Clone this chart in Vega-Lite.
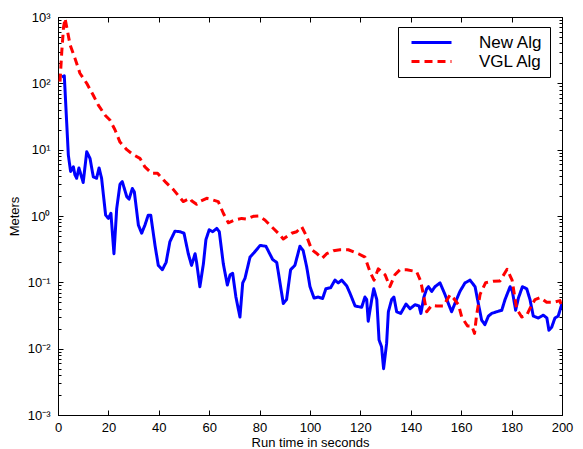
{
  "$schema": "https://vega.github.io/schema/vega-lite/v6.json",
  "width": 504,
  "height": 398,
  "autosize": {"type": "none"},
  "padding": {"left": 58, "top": 17, "right": 21, "bottom": 34},
  "background": "white",
  "config": {
    "view": {"stroke": "black", "strokeWidth": 1},
    "font": "Liberation Sans",
    "axis": {
      "grid": false,
      "domainColor": "black",
      "domainWidth": 1,
      "tickColor": "black",
      "tickWidth": 1,
      "labelColor": "black",
      "titleColor": "black",
      "labelFont": "Liberation Sans",
      "titleFont": "Liberation Sans",
      "labelFontSize": 13,
      "titleFontSize": 13,
      "titleFontWeight": "normal",
      "labelFlush": false,
      "labelOverlap": false,
      "labelBound": false
    }
  },
  "datasets": {
    "pts": [
      {"s": "New Alg", "t": 1.5, "v": 125}, {"s": "New Alg", "t": 2.5, "v": 130}, {"s": "New Alg", "t": 4.1, "v": 8.3}, {"s": "New Alg", "t": 5.0, "v": 4.7}, {"s": "New Alg", "t": 6.1, "v": 5.5}, {"s": "New Alg", "t": 6.7, "v": 4.2}, {"s": "New Alg", "t": 7.4, "v": 3.7}, {"s": "New Alg", "t": 8.3, "v": 5.3}, {"s": "New Alg", "t": 10.0, "v": 3.2}, {"s": "New Alg", "t": 11.4, "v": 9.3}, {"s": "New Alg", "t": 12.7, "v": 7.4}, {"s": "New Alg", "t": 14.0, "v": 3.9}, {"s": "New Alg", "t": 15.3, "v": 3.7}, {"s": "New Alg", "t": 16.3, "v": 5.3}, {"s": "New Alg", "t": 17.3, "v": 3.7}, {"s": "New Alg", "t": 18.9, "v": 1.03}, {"s": "New Alg", "t": 20.0, "v": 0.92}, {"s": "New Alg", "t": 21.0, "v": 1.1}, {"s": "New Alg", "t": 22.2, "v": 0.27}, {"s": "New Alg", "t": 23.3, "v": 1.3}, {"s": "New Alg", "t": 24.6, "v": 3.0}, {"s": "New Alg", "t": 25.5, "v": 3.3}, {"s": "New Alg", "t": 27.3, "v": 1.95}, {"s": "New Alg", "t": 28.2, "v": 1.8}, {"s": "New Alg", "t": 29.5, "v": 2.6}, {"s": "New Alg", "t": 30.3, "v": 2.3}, {"s": "New Alg", "t": 31.9, "v": 0.73}, {"s": "New Alg", "t": 33.2, "v": 0.55}, {"s": "New Alg", "t": 34.5, "v": 0.73}, {"s": "New Alg", "t": 35.8, "v": 1.03}, {"s": "New Alg", "t": 36.8, "v": 1.03}, {"s": "New Alg", "t": 38.5, "v": 0.36}, {"s": "New Alg", "t": 39.8, "v": 0.18}, {"s": "New Alg", "t": 41.4, "v": 0.155}, {"s": "New Alg", "t": 42.9, "v": 0.2}, {"s": "New Alg", "t": 44.4, "v": 0.41}, {"s": "New Alg", "t": 46.4, "v": 0.59}, {"s": "New Alg", "t": 48.4, "v": 0.58}, {"s": "New Alg", "t": 50.0, "v": 0.55}, {"s": "New Alg", "t": 51.7, "v": 0.27}, {"s": "New Alg", "t": 53.0, "v": 0.18}, {"s": "New Alg", "t": 54.4, "v": 0.27}, {"s": "New Alg", "t": 55.0, "v": 0.2}, {"s": "New Alg", "t": 56.3, "v": 0.086}, {"s": "New Alg", "t": 57.7, "v": 0.19}, {"s": "New Alg", "t": 58.7, "v": 0.44}, {"s": "New Alg", "t": 60.0, "v": 0.62}, {"s": "New Alg", "t": 61.4, "v": 0.58}, {"s": "New Alg", "t": 63.0, "v": 0.65}, {"s": "New Alg", "t": 64.0, "v": 0.58}, {"s": "New Alg", "t": 65.6, "v": 0.19}, {"s": "New Alg", "t": 67.2, "v": 0.091}, {"s": "New Alg", "t": 68.3, "v": 0.13}, {"s": "New Alg", "t": 69.3, "v": 0.137}, {"s": "New Alg", "t": 70.6, "v": 0.06}, {"s": "New Alg", "t": 72.2, "v": 0.03}, {"s": "New Alg", "t": 73.3, "v": 0.098}, {"s": "New Alg", "t": 74.2, "v": 0.115}, {"s": "New Alg", "t": 76.2, "v": 0.24}, {"s": "New Alg", "t": 77.8, "v": 0.28}, {"s": "New Alg", "t": 80.2, "v": 0.36}, {"s": "New Alg", "t": 82.5, "v": 0.35}, {"s": "New Alg", "t": 85.2, "v": 0.22}, {"s": "New Alg", "t": 86.8, "v": 0.2}, {"s": "New Alg", "t": 88.1, "v": 0.098}, {"s": "New Alg", "t": 89.4, "v": 0.048}, {"s": "New Alg", "t": 90.7, "v": 0.055}, {"s": "New Alg", "t": 92.3, "v": 0.155}, {"s": "New Alg", "t": 94.0, "v": 0.18}, {"s": "New Alg", "t": 96.0, "v": 0.35}, {"s": "New Alg", "t": 97.3, "v": 0.3}, {"s": "New Alg", "t": 98.7, "v": 0.17}, {"s": "New Alg", "t": 100.0, "v": 0.086}, {"s": "New Alg", "t": 101.6, "v": 0.058}, {"s": "New Alg", "t": 103.3, "v": 0.06}, {"s": "New Alg", "t": 105.0, "v": 0.057}, {"s": "New Alg", "t": 106.3, "v": 0.08}, {"s": "New Alg", "t": 108.2, "v": 0.083}, {"s": "New Alg", "t": 109.9, "v": 0.108}, {"s": "New Alg", "t": 111.2, "v": 0.098}, {"s": "New Alg", "t": 112.6, "v": 0.108}, {"s": "New Alg", "t": 114.6, "v": 0.088}, {"s": "New Alg", "t": 115.9, "v": 0.068}, {"s": "New Alg", "t": 117.9, "v": 0.044}, {"s": "New Alg", "t": 119.2, "v": 0.043}, {"s": "New Alg", "t": 120.5, "v": 0.042}, {"s": "New Alg", "t": 121.8, "v": 0.06}, {"s": "New Alg", "t": 122.5, "v": 0.055}, {"s": "New Alg", "t": 123.1, "v": 0.026}, {"s": "New Alg", "t": 124.5, "v": 0.055}, {"s": "New Alg", "t": 125.3, "v": 0.08}, {"s": "New Alg", "t": 126.5, "v": 0.055}, {"s": "New Alg", "t": 127.4, "v": 0.0135}, {"s": "New Alg", "t": 128.4, "v": 0.0107}, {"s": "New Alg", "t": 129.2, "v": 0.005}, {"s": "New Alg", "t": 130.4, "v": 0.012}, {"s": "New Alg", "t": 131.1, "v": 0.036}, {"s": "New Alg", "t": 132.4, "v": 0.055}, {"s": "New Alg", "t": 133.3, "v": 0.06}, {"s": "New Alg", "t": 134.4, "v": 0.036}, {"s": "New Alg", "t": 136.0, "v": 0.034}, {"s": "New Alg", "t": 138.1, "v": 0.047}, {"s": "New Alg", "t": 139.7, "v": 0.04}, {"s": "New Alg", "t": 141.7, "v": 0.046}, {"s": "New Alg", "t": 143.3, "v": 0.044}, {"s": "New Alg", "t": 144.0, "v": 0.034}, {"s": "New Alg", "t": 145.2, "v": 0.06}, {"s": "New Alg", "t": 146.3, "v": 0.08}, {"s": "New Alg", "t": 147.0, "v": 0.086}, {"s": "New Alg", "t": 148.3, "v": 0.073}, {"s": "New Alg", "t": 149.6, "v": 0.086}, {"s": "New Alg", "t": 151.6, "v": 0.098}, {"s": "New Alg", "t": 153.6, "v": 0.065}, {"s": "New Alg", "t": 154.9, "v": 0.048}, {"s": "New Alg", "t": 156.2, "v": 0.036}, {"s": "New Alg", "t": 157.5, "v": 0.048}, {"s": "New Alg", "t": 159.5, "v": 0.073}, {"s": "New Alg", "t": 161.5, "v": 0.098}, {"s": "New Alg", "t": 163.5, "v": 0.108}, {"s": "New Alg", "t": 165.5, "v": 0.086}, {"s": "New Alg", "t": 166.8, "v": 0.048}, {"s": "New Alg", "t": 168.1, "v": 0.027}, {"s": "New Alg", "t": 169.4, "v": 0.023}, {"s": "New Alg", "t": 170.8, "v": 0.031}, {"s": "New Alg", "t": 172.1, "v": 0.034}, {"s": "New Alg", "t": 174.1, "v": 0.036}, {"s": "New Alg", "t": 176.1, "v": 0.038}, {"s": "New Alg", "t": 177.4, "v": 0.055}, {"s": "New Alg", "t": 179.4, "v": 0.086}, {"s": "New Alg", "t": 180.3, "v": 0.073}, {"s": "New Alg", "t": 181.6, "v": 0.038}, {"s": "New Alg", "t": 182.7, "v": 0.058}, {"s": "New Alg", "t": 184.3, "v": 0.086}, {"s": "New Alg", "t": 186.0, "v": 0.08}, {"s": "New Alg", "t": 187.3, "v": 0.055}, {"s": "New Alg", "t": 188.6, "v": 0.031}, {"s": "New Alg", "t": 190.6, "v": 0.029}, {"s": "New Alg", "t": 192.6, "v": 0.032}, {"s": "New Alg", "t": 194.0, "v": 0.029}, {"s": "New Alg", "t": 194.8, "v": 0.019}, {"s": "New Alg", "t": 195.9, "v": 0.021}, {"s": "New Alg", "t": 197.2, "v": 0.029}, {"s": "New Alg", "t": 198.5, "v": 0.031}, {"s": "New Alg", "t": 200.0, "v": 0.048},
      {"s": "VGL Alg", "t": 0.8, "v": 106}, {"s": "VGL Alg", "t": 1.5, "v": 300}, {"s": "VGL Alg", "t": 2.2, "v": 700}, {"s": "VGL Alg", "t": 2.8, "v": 950}, {"s": "VGL Alg", "t": 4.8, "v": 380}, {"s": "VGL Alg", "t": 6.7, "v": 240}, {"s": "VGL Alg", "t": 8.7, "v": 142}, {"s": "VGL Alg", "t": 11.4, "v": 100}, {"s": "VGL Alg", "t": 14.0, "v": 66}, {"s": "VGL Alg", "t": 16.0, "v": 47}, {"s": "VGL Alg", "t": 18.7, "v": 33}, {"s": "VGL Alg", "t": 20.6, "v": 28}, {"s": "VGL Alg", "t": 22.6, "v": 20}, {"s": "VGL Alg", "t": 24.6, "v": 13}, {"s": "VGL Alg", "t": 27.3, "v": 10}, {"s": "VGL Alg", "t": 29.9, "v": 8.4}, {"s": "VGL Alg", "t": 32.5, "v": 7.4}, {"s": "VGL Alg", "t": 34.5, "v": 5.5}, {"s": "VGL Alg", "t": 37.2, "v": 4.4}, {"s": "VGL Alg", "t": 39.5, "v": 4.4}, {"s": "VGL Alg", "t": 42.5, "v": 3.3}, {"s": "VGL Alg", "t": 45.8, "v": 2.5}, {"s": "VGL Alg", "t": 49.7, "v": 1.65}, {"s": "VGL Alg", "t": 52.4, "v": 1.85}, {"s": "VGL Alg", "t": 53.0, "v": 1.7}, {"s": "VGL Alg", "t": 55.0, "v": 1.5}, {"s": "VGL Alg", "t": 56.3, "v": 1.65}, {"s": "VGL Alg", "t": 59.0, "v": 1.85}, {"s": "VGL Alg", "t": 60.3, "v": 1.8}, {"s": "VGL Alg", "t": 63.6, "v": 1.65}, {"s": "VGL Alg", "t": 65.6, "v": 1.1}, {"s": "VGL Alg", "t": 67.6, "v": 0.79}, {"s": "VGL Alg", "t": 70.2, "v": 0.87}, {"s": "VGL Alg", "t": 72.9, "v": 0.92}, {"s": "VGL Alg", "t": 74.9, "v": 0.9}, {"s": "VGL Alg", "t": 77.5, "v": 0.99}, {"s": "VGL Alg", "t": 79.5, "v": 1.0}, {"s": "VGL Alg", "t": 82.1, "v": 0.87}, {"s": "VGL Alg", "t": 84.1, "v": 0.73}, {"s": "VGL Alg", "t": 87.4, "v": 0.55}, {"s": "VGL Alg", "t": 89.4, "v": 0.45}, {"s": "VGL Alg", "t": 92.7, "v": 0.55}, {"s": "VGL Alg", "t": 94.7, "v": 0.58}, {"s": "VGL Alg", "t": 96.7, "v": 0.69}, {"s": "VGL Alg", "t": 98.7, "v": 0.49}, {"s": "VGL Alg", "t": 100.7, "v": 0.31}, {"s": "VGL Alg", "t": 102.3, "v": 0.28}, {"s": "VGL Alg", "t": 104.8, "v": 0.23}, {"s": "VGL Alg", "t": 106.6, "v": 0.27}, {"s": "VGL Alg", "t": 109.3, "v": 0.3}, {"s": "VGL Alg", "t": 111.9, "v": 0.31}, {"s": "VGL Alg", "t": 115.2, "v": 0.31}, {"s": "VGL Alg", "t": 119.2, "v": 0.27}, {"s": "VGL Alg", "t": 121.8, "v": 0.24}, {"s": "VGL Alg", "t": 123.8, "v": 0.145}, {"s": "VGL Alg", "t": 125.4, "v": 0.108}, {"s": "VGL Alg", "t": 127.1, "v": 0.16}, {"s": "VGL Alg", "t": 129.8, "v": 0.13}, {"s": "VGL Alg", "t": 131.7, "v": 0.086}, {"s": "VGL Alg", "t": 133.7, "v": 0.13}, {"s": "VGL Alg", "t": 135.7, "v": 0.155}, {"s": "VGL Alg", "t": 138.4, "v": 0.155}, {"s": "VGL Alg", "t": 142.3, "v": 0.145}, {"s": "VGL Alg", "t": 143.9, "v": 0.105}, {"s": "VGL Alg", "t": 145.2, "v": 0.06}, {"s": "VGL Alg", "t": 146.3, "v": 0.036}, {"s": "VGL Alg", "t": 148.3, "v": 0.045}, {"s": "VGL Alg", "t": 150.3, "v": 0.044}, {"s": "VGL Alg", "t": 152.9, "v": 0.044}, {"s": "VGL Alg", "t": 155.6, "v": 0.065}, {"s": "VGL Alg", "t": 156.9, "v": 0.058}, {"s": "VGL Alg", "t": 158.9, "v": 0.046}, {"s": "VGL Alg", "t": 160.2, "v": 0.03}, {"s": "VGL Alg", "t": 162.5, "v": 0.022}, {"s": "VGL Alg", "t": 164.2, "v": 0.022}, {"s": "VGL Alg", "t": 165.3, "v": 0.017}, {"s": "VGL Alg", "t": 166.1, "v": 0.032}, {"s": "VGL Alg", "t": 167.5, "v": 0.066}, {"s": "VGL Alg", "t": 169.7, "v": 0.099}, {"s": "VGL Alg", "t": 172.7, "v": 0.104}, {"s": "VGL Alg", "t": 175.4, "v": 0.105}, {"s": "VGL Alg", "t": 178.2, "v": 0.157}, {"s": "VGL Alg", "t": 180.2, "v": 0.108}, {"s": "VGL Alg", "t": 182.0, "v": 0.04}, {"s": "VGL Alg", "t": 184.0, "v": 0.03}, {"s": "VGL Alg", "t": 186.0, "v": 0.032}, {"s": "VGL Alg", "t": 187.9, "v": 0.045}, {"s": "VGL Alg", "t": 189.3, "v": 0.055}, {"s": "VGL Alg", "t": 191.3, "v": 0.059}, {"s": "VGL Alg", "t": 193.9, "v": 0.05}, {"s": "VGL Alg", "t": 196.5, "v": 0.05}, {"s": "VGL Alg", "t": 199.2, "v": 0.053}, {"s": "VGL Alg", "t": 200.0, "v": 0.04}
    ]
  },
  "data": {"name": "pts"},
  "layer": [
    {
      "mark": {"type": "line", "strokeWidth": 3, "strokeCap": "butt", "strokeJoin": "round", "clip": true},
      "encoding": {
        "x": {
          "field": "t", "type": "quantitative",
          "scale": {"domain": [0, 200], "nice": false, "zero": false},
          "axis": {"orient": "bottom", "values": [0, 20, 40, 60, 80, 100, 120, 140, 160, 180, 200], "tickSize": -5, "labelPadding": 11, "title": "Run time in seconds", "titlePadding": 2}
        },
        "y": {
          "field": "v", "type": "quantitative",
          "scale": {"type": "log", "domain": [0.001, 1000], "nice": false},
          "axis": {
            "orient": "left",
            "values": [0.001, 0.002, 0.003, 0.004, 0.005, 0.006, 0.007, 0.008, 0.009, 0.01, 0.02, 0.03, 0.04, 0.05, 0.06, 0.07, 0.08, 0.09, 0.1, 0.2, 0.3, 0.4, 0.5, 0.6, 0.7, 0.8, 0.9, 1, 2, 3, 4, 5, 6, 7, 8, 9, 10, 20, 30, 40, 50, 60, 70, 80, 90, 100, 200, 300, 400, 500, 600, 700, 800, 900, 1000],
            "labelExpr": "abs(log(datum.value)/LN10 - round(log(datum.value)/LN10)) < 0.001 ? ['10⁻³','10⁻²','10⁻¹','10⁰','10¹','10²','10³'][round(log(datum.value)/LN10)+3] : ''",
            "tickSize": {"condition": {"test": "abs(log(datum.value)/LN10 - round(log(datum.value)/LN10)) < 0.001", "value": -5}, "value": -3},
            "labelPadding": 13,
            "title": "Meters",
            "titlePadding": 6
          }
        },
        "color": {
          "field": "s", "type": "nominal",
          "scale": {"domain": ["New Alg", "VGL Alg"], "range": ["#0000ff", "#ff0000"]},
          "legend": {"orient": "none", "legendX": 340, "legendY": 10, "title": null, "symbolType": "M-4,0H4", "symbolSize": 100, "symbolStrokeWidth": 3, "labelFontSize": 17, "labelFont": "Liberation Sans", "labelColor": "black", "strokeColor": "black", "fillColor": "white", "padding": 7, "labelOffset": 39, "rowPadding": 1, "symbolOffset": 18}
        },
        "strokeDash": {
          "field": "s", "type": "nominal",
          "scale": {"domain": ["New Alg", "VGL Alg"], "range": [[1, 0], [8, 5]]},
          "legend": {"orient": "none", "legendX": 340, "legendY": 10, "title": null, "symbolType": "M-4,0H4", "symbolSize": 100, "symbolStrokeWidth": 3, "labelFontSize": 17, "labelFont": "Liberation Sans", "labelColor": "black", "strokeColor": "black", "fillColor": "white", "padding": 7, "labelOffset": 39, "rowPadding": 1, "symbolOffset": 18}
        }
      }
    },
    {
      "mark": {"type": "point", "opacity": 0},
      "encoding": {
        "x": {
          "field": "t", "type": "quantitative",
          "scale": {"domain": [0, 200], "nice": false, "zero": false},
          "axis": {"orient": "top", "values": [0, 20, 40, 60, 80, 100, 120, 140, 160, 180, 200], "tickSize": -5, "labels": false, "title": null}
        },
        "y": {
          "field": "v", "type": "quantitative",
          "scale": {"type": "log", "domain": [0.001, 1000], "nice": false},
          "axis": {
            "orient": "right",
            "values": [0.001, 0.002, 0.003, 0.004, 0.005, 0.006, 0.007, 0.008, 0.009, 0.01, 0.02, 0.03, 0.04, 0.05, 0.06, 0.07, 0.08, 0.09, 0.1, 0.2, 0.3, 0.4, 0.5, 0.6, 0.7, 0.8, 0.9, 1, 2, 3, 4, 5, 6, 7, 8, 9, 10, 20, 30, 40, 50, 60, 70, 80, 90, 100, 200, 300, 400, 500, 600, 700, 800, 900, 1000],
            "tickSize": {"condition": {"test": "abs(log(datum.value)/LN10 - round(log(datum.value)/LN10)) < 0.001", "value": -5}, "value": -3},
            "labels": false,
            "title": null
          }
        }
      }
    }
  ],
  "resolve": {"axis": {"x": "independent", "y": "independent"}}
}
